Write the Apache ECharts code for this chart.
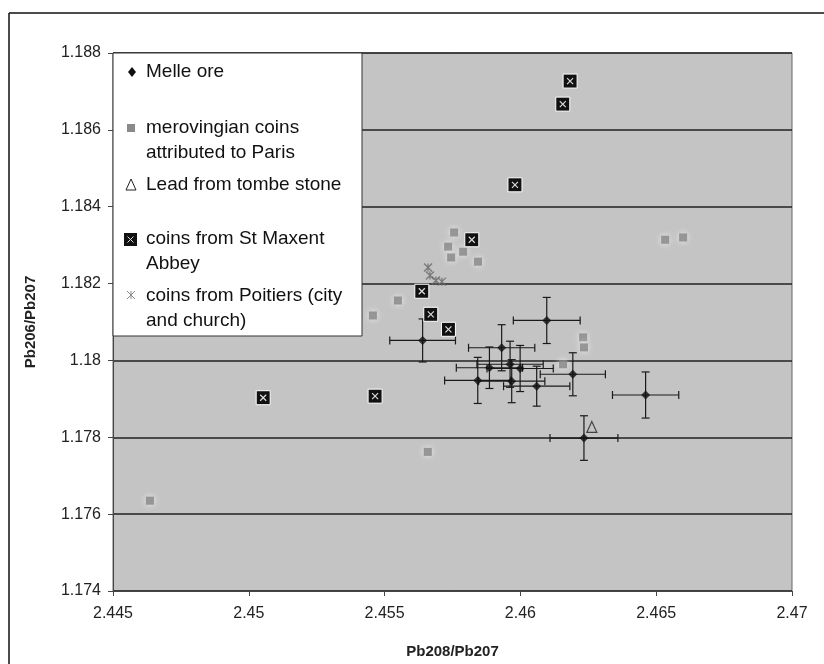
<!DOCTYPE html>
<html>
<head>
<meta charset="utf-8">
<script src="https://cdn.jsdelivr.net/npm/echarts@6/dist/echarts.min.js"></script>
<style>
  html, body { margin: 0; padding: 0; background: #fff; }
  #chart { width: 824px; height: 664px; }
</style>
</head>
<body>
<div id="chart"></div>
<script>
(function() {
    // Melle ore, with 2-sigma error bars
    var melleX    = [2.45640, 2.46097, 2.45931, 2.45843, 2.45886, 2.45962, 2.45968, 2.45999, 2.46060, 2.46193, 2.46461, 2.46234];
    var melleY    = [1.18052, 1.18104, 1.18033, 1.17948, 1.17981, 1.17990, 1.17946, 1.17979, 1.17933, 1.17964, 1.17910, 1.17798];
    var melleXErr = [0.00121, 0.00123, 0.00122, 0.00122, 0.00122, 0.00122, 0.00122, 0.00122, 0.00122, 0.00120, 0.00122, 0.00125];
    var melleYErr = [0.00056, 0.00060, 0.00060, 0.00060, 0.00054, 0.00060, 0.00056, 0.00060, 0.00052, 0.00056, 0.00060, 0.00058];

    // merovingian coins attributed to Paris
    var meroX = [2.44636, 2.45659, 2.46533, 2.46599, 2.45457, 2.45549, 2.45756, 2.45734, 2.45745, 2.45789, 2.45844, 2.46231, 2.46234, 2.46157];
    var meroY = [1.17635, 1.17762, 1.18314, 1.18320, 1.18117, 1.18156, 1.18333, 1.18296, 1.18268, 1.18283, 1.18257, 1.18060, 1.18034, 1.17990];

    // Lead from tombe stone
    var leadX = [2.46263];
    var leadY = [1.17827];

    // coins from St Maxent Abbey
    var maxentX = [2.46183, 2.46156, 2.45980, 2.45821, 2.45637, 2.45670, 2.45735, 2.45053, 2.45465];
    var maxentY = [1.18727, 1.18667, 1.18457, 1.18314, 1.18180, 1.18120, 1.18081, 1.17903, 1.17907];

    // coins from Poitiers (city and church)
    var poitX = [2.45660, 2.45667, 2.45689, 2.45711];
    var poitY = [1.18242, 1.18221, 1.18208, 1.18205];

    var xTicks = { min: 2.445, max: 2.47, interval: 0.005 };
    var yTicks = { min: 1.174, max: 1.188, interval: 0.002 };

    function pairs(xs, ys) {
        return xs.map(function(x, i) { return [x, ys[i]]; });
    }

    var font = 'Liberation Sans, Arial, sans-serif';
    var lf = '19px ' + font;
    var asterisk = 'path://M0,0L10,10M10,0L0,10M5,0L5,10';

    var myChart = echarts.init(document.getElementById('chart'));

    var option = {
        backgroundColor: '#fff',
        animation: false,
        grid: {
            left: 113, top: 53, right: 32, bottom: 72,
            show: true,
            backgroundColor: '#c4c4c4',
            borderColor: '#666',
            borderWidth: 1
        },
        xAxis: {
            type: 'value',
            min: xTicks.min, max: xTicks.max, interval: xTicks.interval,
            name: 'Pb208/Pb207',
            nameLocation: 'middle',
            nameGap: 53,
            nameTextStyle: { fontFamily: font, fontWeight: 'bold', fontSize: 15, color: '#222' },
            axisLine: { show: true, onZero: false, lineStyle: { color: '#444', width: 1 } },
            axisTick: { show: true, length: 5, lineStyle: { color: '#444' } },
            axisLabel: {
                fontFamily: font, fontSize: 16, color: '#222', margin: 15,
                formatter: function(v) { return String(+v.toFixed(3)); }
            },
            splitLine: { show: false }
        },
        yAxis: {
            type: 'value',
            min: yTicks.min, max: yTicks.max, interval: yTicks.interval,
            name: 'Pb206/Pb207',
            nameLocation: 'middle',
            nameGap: 75,
            nameTextStyle: { fontFamily: font, fontWeight: 'bold', fontSize: 15, color: '#222' },
            axisLine: { show: true, onZero: false, lineStyle: { color: '#444', width: 1 } },
            axisTick: { show: true, length: 5, lineStyle: { color: '#444' } },
            axisLabel: {
                fontFamily: font, fontSize: 16, color: '#222', margin: 12,
                formatter: function(v) { return String(+v.toFixed(3)); }
            },
            splitLine: { show: true, lineStyle: { color: '#222', width: 1.6 } }
        },
        graphic: [
            // outer frame (top and left edges visible)
            { type: 'line', z: 100, shape: { x1: 9, y1: 13, x2: 824, y2: 13 }, style: { stroke: '#111', lineWidth: 1.5 } },
            { type: 'line', z: 100, shape: { x1: 9, y1: 13, x2: 9, y2: 664 }, style: { stroke: '#111', lineWidth: 1.5 } },
            // legend box
            { type: 'rect', z: 100, shape: { x: 113, y: 53, width: 249, height: 283 }, style: { fill: '#fff', stroke: '#333', lineWidth: 1 } },
            // Melle ore icon
            { type: 'polygon', z: 101, shape: { points: [[132, 67], [136, 72], [132, 77], [128, 72]] }, style: { fill: '#111' } },
            { type: 'text', z: 101, x: 146, y: 72, style: { text: 'Melle ore', font: lf, fill: '#111', textVerticalAlign: 'middle' } },
            // merovingian icon
            { type: 'rect', z: 101, shape: { x: 127, y: 124, width: 8, height: 8 }, style: { fill: '#8a8a8a' } },
            { type: 'text', z: 101, x: 146, y: 128, style: { text: 'merovingian coins', font: lf, fill: '#111', textVerticalAlign: 'middle' } },
            { type: 'text', z: 101, x: 146, y: 153, style: { text: 'attributed to Paris', font: lf, fill: '#111', textVerticalAlign: 'middle' } },
            // lead icon
            { type: 'polygon', z: 101, shape: { points: [[131, 179], [136, 190], [126, 190]] }, style: { fill: 'none', stroke: '#222', lineWidth: 1 } },
            { type: 'text', z: 101, x: 146, y: 185, style: { text: 'Lead from tombe stone', font: lf, fill: '#111', textVerticalAlign: 'middle' } },
            // St Maxent icon
            { type: 'rect', z: 101, shape: { x: 124, y: 233, width: 13, height: 13 }, style: { fill: '#111' } },
            { type: 'line', z: 102, shape: { x1: 127.5, y1: 236.5, x2: 133.5, y2: 242.5 }, style: { stroke: '#ddd', lineWidth: 1 } },
            { type: 'line', z: 102, shape: { x1: 133.5, y1: 236.5, x2: 127.5, y2: 242.5 }, style: { stroke: '#ddd', lineWidth: 1 } },
            { type: 'text', z: 101, x: 146, y: 239, style: { text: 'coins from St Maxent', font: lf, fill: '#111', textVerticalAlign: 'middle' } },
            { type: 'text', z: 101, x: 146, y: 264, style: { text: 'Abbey', font: lf, fill: '#111', textVerticalAlign: 'middle' } },
            // Poitiers icon
            { type: 'line', z: 101, shape: { x1: 127, y1: 291, x2: 135, y2: 299 }, style: { stroke: '#888', lineWidth: 1 } },
            { type: 'line', z: 101, shape: { x1: 135, y1: 291, x2: 127, y2: 299 }, style: { stroke: '#888', lineWidth: 1 } },
            { type: 'line', z: 101, shape: { x1: 131, y1: 291, x2: 131, y2: 299 }, style: { stroke: '#888', lineWidth: 1 } },
            { type: 'text', z: 101, x: 146, y: 296, style: { text: 'coins from Poitiers (city', font: lf, fill: '#111', textVerticalAlign: 'middle' } },
            { type: 'text', z: 101, x: 146, y: 321, style: { text: 'and church)', font: lf, fill: '#111', textVerticalAlign: 'middle' } }
        ],
        series: [
            {
                name: 'merovingian coins attributed to Paris',
                type: 'scatter',
                symbol: 'rect',
                symbolSize: 8,
                itemStyle: { color: '#858585', shadowColor: 'rgba(255,255,255,0.9)', shadowBlur: 6 },
                data: pairs(meroX, meroY),
                z: 3
            },
            {
                name: 'coins from Poitiers (city and church)',
                type: 'scatter',
                symbol: asterisk,
                symbolSize: 8,
                itemStyle: { color: 'none', borderColor: '#666', borderWidth: 1.3 },
                data: pairs(poitX, poitY),
                z: 4
            },
            {
                name: 'Melle ore errors',
                type: 'custom',
                data: melleX.map(function(x, i) { return [x, melleY[i], melleXErr[i], melleYErr[i]]; }),
                renderItem: function(params, api) {
                    var x = api.value(0), y = api.value(1), ex = api.value(2), ey = api.value(3);
                    var l = api.coord([x - ex, y]), r = api.coord([x + ex, y]);
                    var t = api.coord([x, y + ey]), b = api.coord([x, y - ey]);
                    var cap = 4;
                    var st = { stroke: '#1a1a1a', lineWidth: 1.2 };
                    return {
                        type: 'group',
                        children: [
                            { type: 'line', shape: { x1: l[0], y1: l[1], x2: r[0], y2: r[1] }, style: st },
                            { type: 'line', shape: { x1: t[0], y1: t[1], x2: b[0], y2: b[1] }, style: st },
                            { type: 'line', shape: { x1: l[0], y1: l[1] - cap, x2: l[0], y2: l[1] + cap }, style: st },
                            { type: 'line', shape: { x1: r[0], y1: r[1] - cap, x2: r[0], y2: r[1] + cap }, style: st },
                            { type: 'line', shape: { x1: t[0] - cap, y1: t[1], x2: t[0] + cap, y2: t[1] }, style: st },
                            { type: 'line', shape: { x1: b[0] - cap, y1: b[1], x2: b[0] + cap, y2: b[1] }, style: st }
                        ]
                    };
                },
                z: 5
            },
            {
                name: 'Melle ore',
                type: 'scatter',
                symbol: 'diamond',
                symbolSize: 9,
                itemStyle: { color: '#111' },
                data: pairs(melleX, melleY),
                z: 6
            },
            {
                name: 'Lead from tombe stone',
                type: 'scatter',
                symbol: 'triangle',
                symbolSize: [10, 11],
                itemStyle: { color: 'rgba(0,0,0,0)', borderColor: '#222', borderWidth: 1.2 },
                data: pairs(leadX, leadY),
                z: 6
            },
            {
                name: 'coins from St Maxent Abbey',
                type: 'custom',
                data: pairs(maxentX, maxentY),
                renderItem: function(params, api) {
                    var p = api.coord([api.value(0), api.value(1)]);
                    var h = 7, k = 3;
                    return {
                        type: 'group',
                        children: [
                            { type: 'rect', shape: { x: p[0] - h, y: p[1] - h, width: 2 * h, height: 2 * h }, style: { fill: '#111', stroke: '#fff', lineWidth: 1 } },
                            { type: 'line', shape: { x1: p[0] - k, y1: p[1] - k, x2: p[0] + k, y2: p[1] + k }, style: { stroke: '#ddd', lineWidth: 1.2 } },
                            { type: 'line', shape: { x1: p[0] + k, y1: p[1] - k, x2: p[0] - k, y2: p[1] + k }, style: { stroke: '#ddd', lineWidth: 1.2 } }
                        ]
                    };
                },
                z: 7
            }
        ]
    };

    myChart.setOption(option);
})();
</script>
</body>
</html>
